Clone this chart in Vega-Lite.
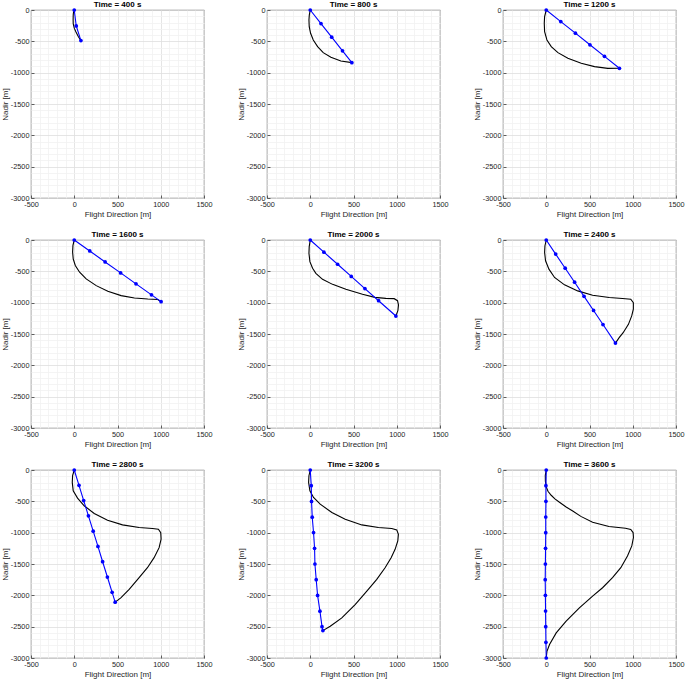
{
  "$schema": "https://vega.github.io/schema/vega-lite/v6.json",
  "background": "white",
  "padding": {"left": 0, "top": 0, "right": 0, "bottom": 0},
  "data": {"values": [
    {"p":400,"k":"c","i":0,"x":0,"y":0},{"p":400,"k":"c","i":1,"x":-10,"y":-50},{"p":400,"k":"c","i":2,"x":-12,"y":-85},{"p":400,"k":"c","i":3,"x":-13,"y":-150},{"p":400,"k":"c","i":4,"x":-12,"y":-217},{"p":400,"k":"c","i":5,"x":0,"y":-290},{"p":400,"k":"c","i":6,"x":20,"y":-350},{"p":400,"k":"c","i":7,"x":45,"y":-420},{"p":400,"k":"c","i":8,"x":77,"y":-488},
    {"p":400,"k":"n","i":0,"x":0,"y":0},{"p":400,"k":"n","i":1,"x":23,"y":-255},{"p":400,"k":"n","i":2,"x":77,"y":-488},

    {"p":800,"k":"c","i":0,"x":0,"y":0},{"p":800,"k":"c","i":1,"x":-11,"y":-80},{"p":800,"k":"c","i":2,"x":-15,"y":-160},{"p":800,"k":"c","i":3,"x":-12,"y":-266},{"p":800,"k":"c","i":4,"x":4,"y":-372},{"p":800,"k":"c","i":5,"x":35,"y":-479},{"p":800,"k":"c","i":6,"x":85,"y":-585},{"p":800,"k":"c","i":7,"x":150,"y":-681},{"p":800,"k":"c","i":8,"x":239,"y":-755},{"p":800,"k":"c","i":9,"x":354,"y":-814},{"p":800,"k":"c","i":10,"x":481,"y":-840},
    {"p":800,"k":"n","i":0,"x":0,"y":0},{"p":800,"k":"n","i":1,"x":124,"y":-217},{"p":800,"k":"n","i":2,"x":248,"y":-434},{"p":800,"k":"n","i":3,"x":373,"y":-651},{"p":800,"k":"n","i":4,"x":481,"y":-840},

    {"p":1200,"k":"c","i":0,"x":0,"y":0},{"p":1200,"k":"c","i":1,"x":-19,"y":-106},{"p":1200,"k":"c","i":2,"x":-23,"y":-213},{"p":1200,"k":"c","i":3,"x":-19,"y":-346},{"p":1200,"k":"c","i":4,"x":8,"y":-479},{"p":1200,"k":"c","i":5,"x":58,"y":-585},{"p":1200,"k":"c","i":6,"x":135,"y":-681},{"p":1200,"k":"c","i":7,"x":250,"y":-771},{"p":1200,"k":"c","i":8,"x":404,"y":-851},{"p":1200,"k":"c","i":9,"x":558,"y":-904},{"p":1200,"k":"c","i":10,"x":711,"y":-931},{"p":1200,"k":"c","i":11,"x":846,"y":-930},
    {"p":1200,"k":"n","i":0,"x":0,"y":0},{"p":1200,"k":"n","i":1,"x":168,"y":-185},{"p":1200,"k":"n","i":2,"x":337,"y":-370},{"p":1200,"k":"n","i":3,"x":505,"y":-555},{"p":1200,"k":"n","i":4,"x":673,"y":-740},{"p":1200,"k":"n","i":5,"x":846,"y":-930},

    {"p":1600,"k":"c","i":0,"x":0,"y":0},{"p":1600,"k":"c","i":1,"x":-15,"y":-86},{"p":1600,"k":"c","i":2,"x":-19,"y":-193},{"p":1600,"k":"c","i":3,"x":-12,"y":-300},{"p":1600,"k":"c","i":4,"x":12,"y":-407},{"p":1600,"k":"c","i":5,"x":62,"y":-514},{"p":1600,"k":"c","i":6,"x":138,"y":-621},{"p":1600,"k":"c","i":7,"x":254,"y":-728},{"p":1600,"k":"c","i":8,"x":388,"y":-819},{"p":1600,"k":"c","i":9,"x":542,"y":-888},{"p":1600,"k":"c","i":10,"x":696,"y":-926},{"p":1600,"k":"c","i":11,"x":850,"y":-942},{"p":1600,"k":"c","i":12,"x":965,"y":-950},{"p":1600,"k":"c","i":13,"x":1004,"y":-984},
    {"p":1600,"k":"n","i":0,"x":0,"y":0},{"p":1600,"k":"n","i":1,"x":179,"y":-175},{"p":1600,"k":"n","i":2,"x":357,"y":-350},{"p":1600,"k":"n","i":3,"x":536,"y":-525},{"p":1600,"k":"n","i":4,"x":714,"y":-700},{"p":1600,"k":"n","i":5,"x":893,"y":-875},{"p":1600,"k":"n","i":6,"x":1004,"y":-984},

    {"p":2000,"k":"c","i":0,"x":0,"y":0},{"p":2000,"k":"c","i":1,"x":-12,"y":-106},{"p":2000,"k":"c","i":2,"x":-15,"y":-213},{"p":2000,"k":"c","i":3,"x":-4,"y":-346},{"p":2000,"k":"c","i":4,"x":27,"y":-452},{"p":2000,"k":"c","i":5,"x":65,"y":-532},{"p":2000,"k":"c","i":6,"x":142,"y":-628},{"p":2000,"k":"c","i":7,"x":258,"y":-708},{"p":2000,"k":"c","i":8,"x":412,"y":-787},{"p":2000,"k":"c","i":9,"x":604,"y":-867},{"p":2000,"k":"c","i":10,"x":747,"y":-915},{"p":2000,"k":"c","i":11,"x":874,"y":-931},{"p":2000,"k":"c","i":12,"x":970,"y":-936},{"p":2000,"k":"c","i":13,"x":1009,"y":-968},{"p":2000,"k":"c","i":14,"x":1020,"y":-1037},{"p":2000,"k":"c","i":15,"x":1013,"y":-1128},{"p":2000,"k":"c","i":16,"x":990,"y":-1213},
    {"p":2000,"k":"n","i":0,"x":0,"y":0},{"p":2000,"k":"n","i":1,"x":158,"y":-194},{"p":2000,"k":"n","i":2,"x":316,"y":-387},{"p":2000,"k":"n","i":3,"x":474,"y":-581},{"p":2000,"k":"n","i":4,"x":632,"y":-775},{"p":2000,"k":"n","i":5,"x":790,"y":-969},{"p":2000,"k":"n","i":6,"x":990,"y":-1213},

    {"p":2400,"k":"c","i":0,"x":0,"y":0},{"p":2400,"k":"c","i":1,"x":-15,"y":-91},{"p":2400,"k":"c","i":2,"x":-19,"y":-198},{"p":2400,"k":"c","i":3,"x":-8,"y":-331},{"p":2400,"k":"c","i":4,"x":31,"y":-465},{"p":2400,"k":"c","i":5,"x":96,"y":-598},{"p":2400,"k":"c","i":6,"x":211,"y":-716},{"p":2400,"k":"c","i":7,"x":364,"y":-812},{"p":2400,"k":"c","i":8,"x":536,"y":-881},{"p":2400,"k":"c","i":9,"x":728,"y":-918},{"p":2400,"k":"c","i":10,"x":881,"y":-934},{"p":2400,"k":"c","i":11,"x":977,"y":-945},{"p":2400,"k":"c","i":12,"x":1007,"y":-999},{"p":2400,"k":"c","i":13,"x":1007,"y":-1105},{"p":2400,"k":"c","i":14,"x":988,"y":-1212},{"p":2400,"k":"c","i":15,"x":950,"y":-1346},{"p":2400,"k":"c","i":16,"x":889,"y":-1479},{"p":2400,"k":"c","i":17,"x":843,"y":-1559},{"p":2400,"k":"c","i":18,"x":800,"y":-1645},
    {"p":2400,"k":"n","i":0,"x":0,"y":0},{"p":2400,"k":"n","i":1,"x":109,"y":-225},{"p":2400,"k":"n","i":2,"x":219,"y":-450},{"p":2400,"k":"n","i":3,"x":328,"y":-674},{"p":2400,"k":"n","i":4,"x":437,"y":-899},{"p":2400,"k":"n","i":5,"x":547,"y":-1124},{"p":2400,"k":"n","i":6,"x":656,"y":-1349},{"p":2400,"k":"n","i":7,"x":800,"y":-1645},

    {"p":2800,"k":"c","i":0,"x":0,"y":0},{"p":2800,"k":"c","i":1,"x":-19,"y":-91},{"p":2800,"k":"c","i":2,"x":-23,"y":-198},{"p":2800,"k":"c","i":3,"x":-12,"y":-331},{"p":2800,"k":"c","i":4,"x":38,"y":-449},{"p":2800,"k":"c","i":5,"x":115,"y":-571},{"p":2800,"k":"c","i":6,"x":231,"y":-694},{"p":2800,"k":"c","i":7,"x":385,"y":-801},{"p":2800,"k":"c","i":8,"x":558,"y":-876},{"p":2800,"k":"c","i":9,"x":750,"y":-918},{"p":2800,"k":"c","i":10,"x":904,"y":-934},{"p":2800,"k":"c","i":11,"x":973,"y":-945},{"p":2800,"k":"c","i":12,"x":1000,"y":-999},{"p":2800,"k":"c","i":13,"x":1004,"y":-1105},{"p":2800,"k":"c","i":14,"x":981,"y":-1239},{"p":2800,"k":"c","i":15,"x":923,"y":-1399},{"p":2800,"k":"c","i":16,"x":846,"y":-1559},{"p":2800,"k":"c","i":17,"x":750,"y":-1719},{"p":2800,"k":"c","i":18,"x":635,"y":-1906},{"p":2800,"k":"c","i":19,"x":538,"y":-2040},{"p":2800,"k":"c","i":20,"x":473,"y":-2109},
    {"p":2800,"k":"n","i":0,"x":0,"y":0},{"p":2800,"k":"n","i":1,"x":55,"y":-244},{"p":2800,"k":"n","i":2,"x":109,"y":-488},{"p":2800,"k":"n","i":3,"x":164,"y":-732},{"p":2800,"k":"n","i":4,"x":219,"y":-976},{"p":2800,"k":"n","i":5,"x":274,"y":-1220},{"p":2800,"k":"n","i":6,"x":328,"y":-1464},{"p":2800,"k":"n","i":7,"x":383,"y":-1708},{"p":2800,"k":"n","i":8,"x":438,"y":-1952},{"p":2800,"k":"n","i":9,"x":473,"y":-2109},

    {"p":3200,"k":"c","i":0,"x":0,"y":0},{"p":3200,"k":"c","i":1,"x":-15,"y":-91},{"p":3200,"k":"c","i":2,"x":-19,"y":-198},{"p":3200,"k":"c","i":3,"x":-4,"y":-331},{"p":3200,"k":"c","i":4,"x":38,"y":-438},{"p":3200,"k":"c","i":5,"x":115,"y":-545},{"p":3200,"k":"c","i":6,"x":250,"y":-678},{"p":3200,"k":"c","i":7,"x":404,"y":-785},{"p":3200,"k":"c","i":8,"x":596,"y":-876},{"p":3200,"k":"c","i":9,"x":788,"y":-918},{"p":3200,"k":"c","i":10,"x":942,"y":-934},{"p":3200,"k":"c","i":11,"x":1000,"y":-956},{"p":3200,"k":"c","i":12,"x":1019,"y":-1025},{"p":3200,"k":"c","i":13,"x":1012,"y":-1132},{"p":3200,"k":"c","i":14,"x":981,"y":-1266},{"p":3200,"k":"c","i":15,"x":935,"y":-1399},{"p":3200,"k":"c","i":16,"x":865,"y":-1559},{"p":3200,"k":"c","i":17,"x":769,"y":-1746},{"p":3200,"k":"c","i":18,"x":654,"y":-1933},{"p":3200,"k":"c","i":19,"x":519,"y":-2147},{"p":3200,"k":"c","i":20,"x":365,"y":-2360},{"p":3200,"k":"c","i":21,"x":231,"y":-2494},{"p":3200,"k":"c","i":22,"x":146,"y":-2563},
    {"p":3200,"k":"n","i":0,"x":0,"y":0},{"p":3200,"k":"n","i":1,"x":12,"y":-251},{"p":3200,"k":"n","i":2,"x":15,"y":-502},{"p":3200,"k":"n","i":3,"x":23,"y":-753},{"p":3200,"k":"n","i":4,"x":38,"y":-998},{"p":3200,"k":"n","i":5,"x":50,"y":-1249},{"p":3200,"k":"n","i":6,"x":54,"y":-1500},{"p":3200,"k":"n","i":7,"x":69,"y":-1751},{"p":3200,"k":"n","i":8,"x":85,"y":-2002},{"p":3200,"k":"n","i":9,"x":112,"y":-2253},{"p":3200,"k":"n","i":10,"x":136,"y":-2500},{"p":3200,"k":"n","i":11,"x":146,"y":-2563},

    {"p":3600,"k":"c","i":0,"x":0,"y":0},{"p":3600,"k":"c","i":1,"x":-11,"y":-85},{"p":3600,"k":"c","i":2,"x":-10,"y":-180},{"p":3600,"k":"c","i":3,"x":0,"y":-270},{"p":3600,"k":"c","i":4,"x":20,"y":-340},{"p":3600,"k":"c","i":5,"x":57,"y":-403},{"p":3600,"k":"c","i":6,"x":100,"y":-460},{"p":3600,"k":"c","i":7,"x":153,"y":-515},{"p":3600,"k":"c","i":8,"x":230,"y":-590},{"p":3600,"k":"c","i":9,"x":306,"y":-655},{"p":3600,"k":"c","i":10,"x":400,"y":-740},{"p":3600,"k":"c","i":11,"x":536,"y":-835},{"p":3600,"k":"c","i":12,"x":725,"y":-902},{"p":3600,"k":"c","i":13,"x":916,"y":-929},{"p":3600,"k":"c","i":14,"x":977,"y":-950},{"p":3600,"k":"c","i":15,"x":1004,"y":-998},{"p":3600,"k":"c","i":16,"x":1008,"y":-1078},{"p":3600,"k":"c","i":17,"x":989,"y":-1212},{"p":3600,"k":"c","i":18,"x":939,"y":-1372},{"p":3600,"k":"c","i":19,"x":862,"y":-1559},{"p":3600,"k":"c","i":20,"x":766,"y":-1719},{"p":3600,"k":"c","i":21,"x":651,"y":-1879},{"p":3600,"k":"c","i":22,"x":536,"y":-2012},{"p":3600,"k":"c","i":23,"x":383,"y":-2199},{"p":3600,"k":"c","i":24,"x":230,"y":-2413},{"p":3600,"k":"c","i":25,"x":115,"y":-2600},{"p":3600,"k":"c","i":26,"x":38,"y":-2786},{"p":3600,"k":"c","i":27,"x":8,"y":-2893},{"p":3600,"k":"c","i":28,"x":0,"y":-3000},
    {"p":3600,"k":"n","i":0,"x":0,"y":0},{"p":3600,"k":"n","i":1,"x":-4,"y":-250},{"p":3600,"k":"n","i":2,"x":-4,"y":-500},{"p":3600,"k":"n","i":3,"x":-6,"y":-750},{"p":3600,"k":"n","i":4,"x":-6,"y":-1000},{"p":3600,"k":"n","i":5,"x":-8,"y":-1250},{"p":3600,"k":"n","i":6,"x":-10,"y":-1500},{"p":3600,"k":"n","i":7,"x":-12,"y":-1750},{"p":3600,"k":"n","i":8,"x":-10,"y":-2000},{"p":3600,"k":"n","i":9,"x":-8,"y":-2250},{"p":3600,"k":"n","i":10,"x":-6,"y":-2500},{"p":3600,"k":"n","i":11,"x":-4,"y":-2750},{"p":3600,"k":"n","i":12,"x":0,"y":-3000}
  ]},
  "facet": {
    "field": "p",
    "type": "ordinal",
    "header": {
      "title": null,
      "labelExpr": "'Time = ' + datum.value + ' s'",
      "labelFont": "Liberation Sans",
      "labelFontSize": 8,
      "labelFontWeight": "bold",
      "labelColor": "#000000",
      "labelPadding": -3
    }
  },
  "columns": 3,
  "bounds": "flush",
  "spacing": {"row": 42, "column": 63},
  "resolve": {"axis": {"x": "independent", "y": "independent"}},
  "spec": {
    "width": 173,
    "height": 188,
    "encoding": {
      "x": {
        "field": "x",
        "type": "quantitative",
        "scale": {"domain": [-500, 1500], "nice": false, "zero": false},
        "axis": {
          "title": "Flight Direction [m]",
          "values": [-500,-400,-300,-200,-100,0,100,200,300,400,500,600,700,800,900,1000,1100,1200,1300,1400,1500],
          "labelExpr": "datum.value % 500 === 0 ? '' + datum.value : ''",
          "gridColor": {"condition": {"test": "datum.value % 500 === 0", "value": "#dedede"}, "value": "#f1f1f1"},
          "tickOpacity": {"condition": {"test": "datum.value % 500 === 0", "value": 1}, "value": 0},
          "labelFlush": false,
          "labelOverlap": false
        }
      },
      "y": {
        "field": "y",
        "type": "quantitative",
        "scale": {"domain": [-3000, 0], "nice": false, "zero": false},
        "axis": {
          "title": "Nadir [m]",
          "titlePadding": 1,
          "values": [-3000,-2900,-2800,-2700,-2600,-2500,-2400,-2300,-2200,-2100,-2000,-1900,-1800,-1700,-1600,-1500,-1400,-1300,-1200,-1100,-1000,-900,-800,-700,-600,-500,-400,-300,-200,-100,0],
          "labelExpr": "datum.value % 500 === 0 ? '' + datum.value : ''",
          "gridColor": {"condition": {"test": "datum.value % 500 === 0", "value": "#dedede"}, "value": "#f1f1f1"},
          "tickOpacity": {"condition": {"test": "datum.value % 500 === 0", "value": 1}, "value": 0},
          "labelFlush": false,
          "labelOverlap": false
        }
      },
      "order": {"field": "i", "type": "quantitative"}
    },
    "layer": [
      {"transform": [{"filter": "datum.k === 'c'"}], "mark": {"type": "line", "color": "#000000", "strokeWidth": 1.1}},
      {"transform": [{"filter": "datum.k === 'n'"}], "mark": {"type": "line", "color": "#0000ff", "strokeWidth": 1.1}},
      {"transform": [{"filter": "datum.k === 'n'"}], "mark": {"type": "point", "filled": true, "color": "#0000ff", "size": 14, "opacity": 1}}
    ]
  },
  "config": {
    "font": "Liberation Sans",
    "view": {"stroke": "#3a3a3a", "strokeWidth": 0.8},
    "axis": {
      "domain": false,
      "grid": true,
      "gridWidth": 0.8,
      "tickColor": "#3a3a3a",
      "tickSize": -3,
      "tickWidth": 0.8,
      "labelPadding": 5,
      "labelFont": "Liberation Sans",
      "labelFontSize": 7.3,
      "labelColor": "#262626",
      "titleFont": "Liberation Sans",
      "titleFontSize": 8,
      "titleFontWeight": "normal",
      "titleColor": "#262626",
      "titlePadding": 3
    }
  }
}
